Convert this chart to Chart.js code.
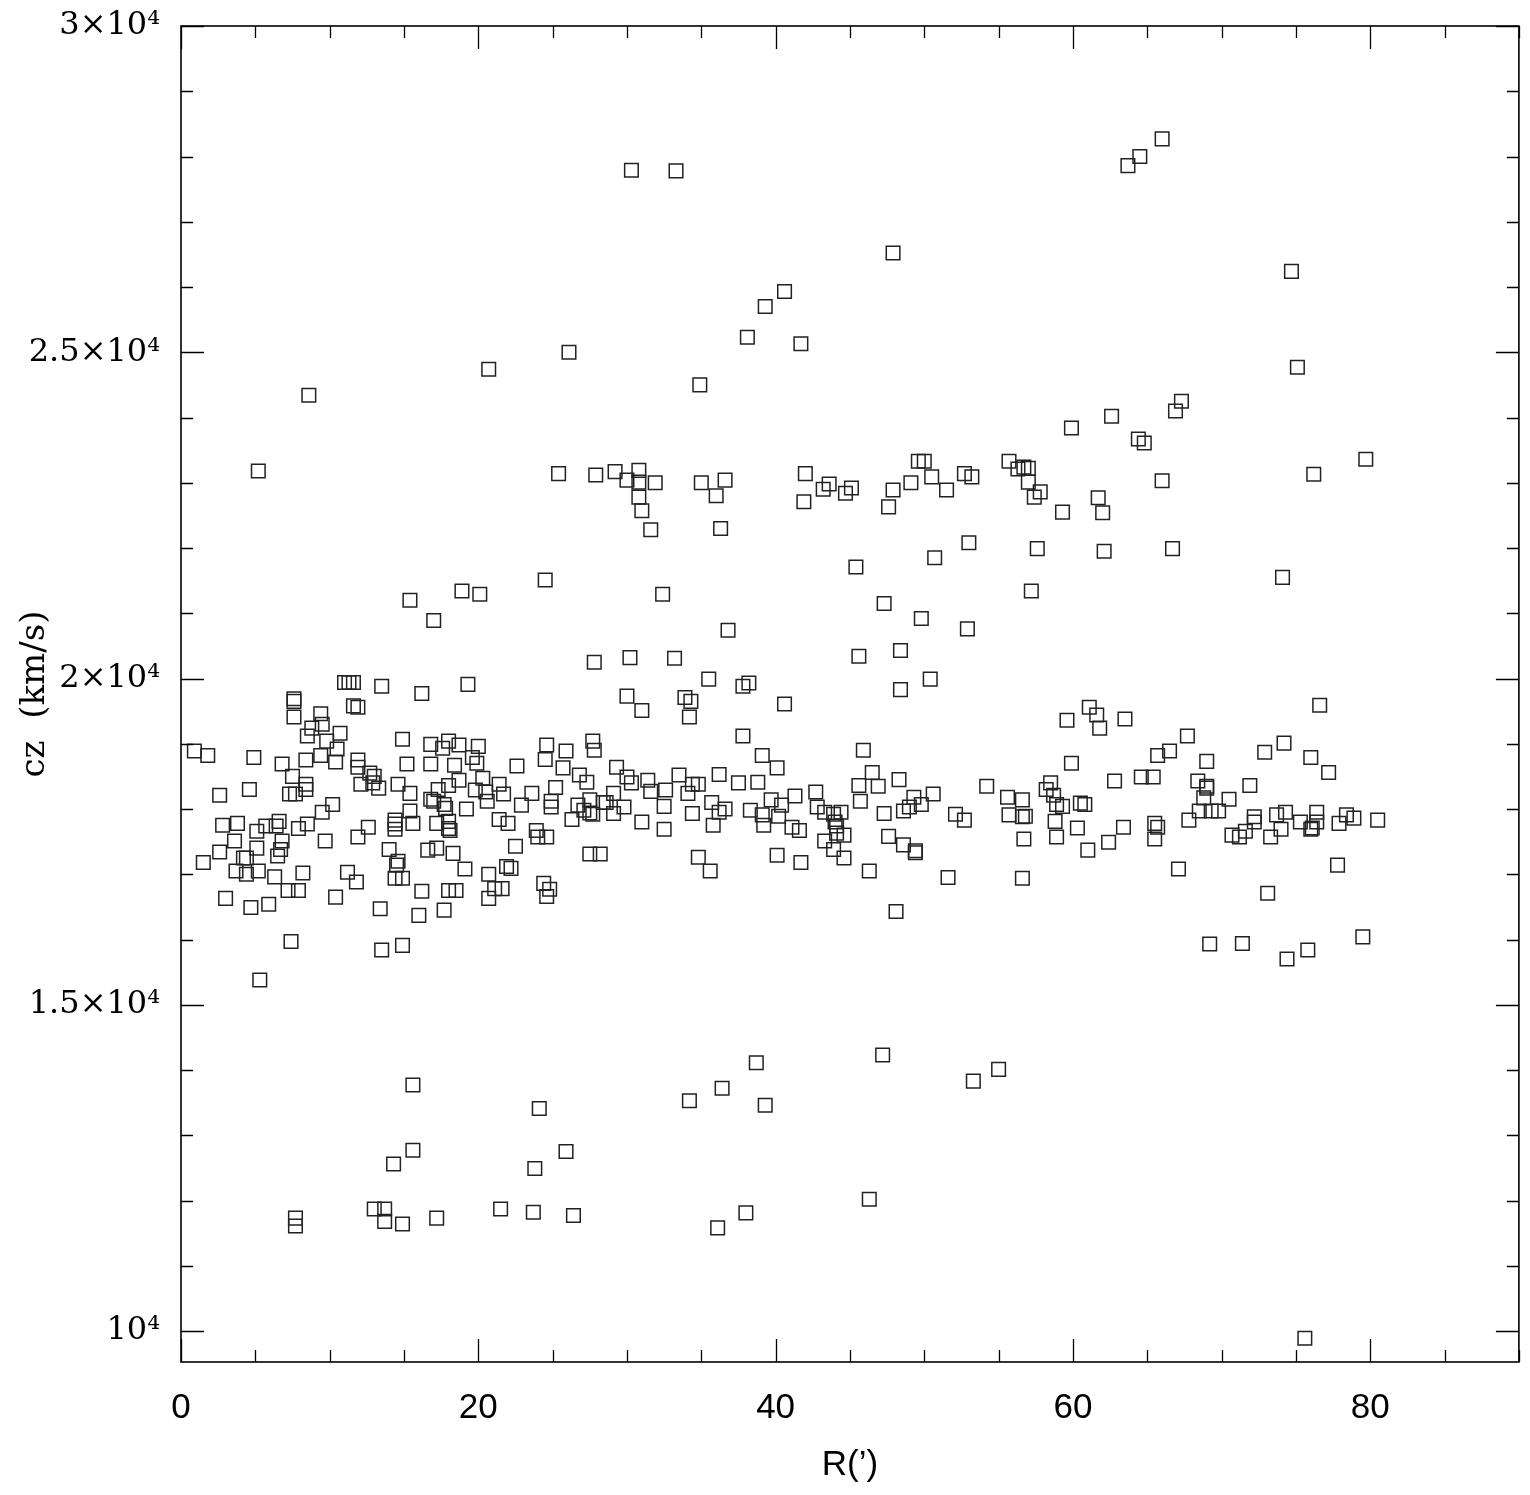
<!DOCTYPE html>
<html>
<head>
<meta charset="utf-8">
<title>cz vs R</title>
<script src="https://cdn.jsdelivr.net/npm/chart.js@4.4.1/dist/chart.umd.min.js"></script>
<style>
  html, body { margin: 0; padding: 0; background: #fff; }
  canvas { display: block; }
</style>
</head>
<body>
<canvas id="chart" width="1530" height="1495"></canvas>
<script>
// projected radius R (arcmin)
const radiusArcmin = [
  // high cz
  30.3, 33.3, 66.0, 64.5, 63.7, 47.9, 74.7, 40.6, 39.3, 38.1,
  41.7, 26.1, 20.7, 75.1, 34.9, 8.6, 67.3, 66.9, 62.6, 59.9,
  64.4, 64.8, 5.2, 79.7, 76.2, 25.4, 27.9, 29.2, 30.0, 30.8,
  30.8, 31.9, 35.0, 36.6, 30.8, 31.0, 31.6, 36.0, 36.3, 42.0,
  41.9, 43.2, 43.6, 44.7, 45.1, 47.6, 47.9, 49.1, 49.6, 50.0,
  50.5, 51.5, 52.7, 53.2, 55.7, 56.3, 56.7, 57.0, 57.0, 57.4,
  57.8, 59.3, 61.7, 62.0, 66.0, 50.7, 53.0, 57.6, 62.1, 66.7,
  45.4, 24.5, 18.9, 20.1, 15.4, 32.4, 47.3, 57.2, 74.1, 17.0,
  49.8, 36.8, 52.9, 30.2, 27.8, 33.2, 45.6, 48.4, 50.4, 35.5,
  // low cz
  15.6, 15.6, 14.3, 13.0, 13.7, 13.7, 14.9, 17.2, 7.7, 7.7,
  21.5, 23.7, 26.4, 24.1, 23.8, 25.9, 34.2, 36.4, 36.1, 38.7,
  39.3, 38.0, 46.3, 47.2, 53.3, 55.0, 75.6,
  // main band, R < 23
  11.0, 11.3, 11.6, 13.5, 16.2, 19.3, 7.6, 7.6, 11.6, 11.9,
  7.6, 9.4, 9.5, 8.8, 10.7, 8.5, 9.8, 10.5, 9.4, 10.4,
  0.9, 1.8, 4.9, 6.8, 8.4, 7.5, 8.4, 8.4, 7.7, 7.3,
  2.6, 4.6, 14.9, 16.8, 18.0, 18.7, 20.0, 17.6, 19.6, 19.9,
  11.9, 11.9, 12.7, 13.0, 12.1, 12.9, 13.3, 15.2, 16.8, 18.4,
  14.6, 15.4, 17.3, 18.0, 18.7, 19.8, 20.3, 20.5, 21.4, 21.7,
  22.6, 22.9, 16.8, 17.0, 17.7, 17.8, 19.2, 20.6, 15.4, 10.2,
  9.5, 2.8, 3.8, 5.1, 5.7, 6.4, 6.6, 7.9, 8.5, 14.4,
  14.4, 14.4, 15.6, 12.6, 11.9, 9.7, 17.2, 18.0, 18.0, 18.1,
  21.4, 22.0, 22.5, 21.9, 22.2, 3.6, 2.6, 5.1, 6.8, 6.7,
  6.5, 4.2, 4.4, 1.5, 3.7, 4.4, 5.2, 6.3, 7.2, 7.9,
  8.2, 3.0, 4.7, 5.9, 10.4, 11.2, 11.8, 14.0, 14.6, 14.5,
  14.4, 14.9, 16.6, 17.2, 18.3, 19.1, 20.7, 21.1, 21.6, 20.7,
  16.2, 18.0, 18.5, 13.4, 16.0, 17.7, 7.4, 13.5, 14.9, 5.3,
  // main band, 23 < R < 45
  37.8, 38.2, 30.0, 31.0, 33.9, 34.3, 34.2, 40.6, 37.8, 39.1,
  40.1, 24.6, 27.7, 27.8, 25.9, 24.5, 25.7, 26.8, 27.3, 29.3,
  30.0, 30.3, 31.4, 31.6, 32.6, 33.5, 34.4, 34.8, 34.1, 36.2,
  37.5, 38.8, 23.6, 25.2, 24.9, 24.9, 26.7, 27.1, 27.5, 27.5,
  27.7, 28.4, 28.6, 29.1, 29.1, 29.8, 26.3, 31.0, 32.5, 32.5,
  34.4, 35.7, 36.6, 36.2, 35.8, 38.3, 39.1, 39.2, 39.7, 40.4,
  40.2, 41.3, 41.1, 41.6, 42.7, 42.8, 43.3, 43.9, 44.0, 44.1,
  44.1, 44.4, 43.3, 43.9, 44.6, 44.6, 23.9, 24.0, 24.6, 27.5,
  28.2, 24.4, 24.8, 24.6, 34.8, 35.6, 40.1, 41.7,
  // main band, 45 < R < 68
  48.4, 45.9, 46.5, 45.6, 46.9, 48.3, 45.7, 47.3, 48.6, 49.0,
  49.3, 49.8, 50.6, 47.6, 48.6, 49.4, 49.4, 46.3, 48.1, 51.6,
  52.1, 52.7, 54.2, 55.6, 56.6, 55.7, 56.6, 56.8, 56.7, 56.6,
  58.5, 58.2, 58.7, 58.9, 59.3, 58.8, 58.9, 59.9, 59.6, 61.1,
  61.6, 61.8, 63.5, 60.5, 60.8, 60.3, 61.0, 62.4, 63.4, 62.8,
  64.6, 65.4, 65.7, 66.5, 65.5, 65.7, 65.5, 67.1,
  // main band, R > 67
  76.6, 67.7, 72.9, 74.2, 76.0, 77.2, 69.0, 68.4, 69.0, 69.0,
  71.9, 68.8, 70.5, 68.5, 69.3, 69.8, 67.8, 72.2, 72.2, 73.7,
  74.3, 75.3, 76.4, 76.4, 76.1, 76.0, 77.9, 78.4, 78.9, 80.5,
  70.7, 71.2, 71.6, 73.3, 74.0, 77.8, 73.1, 69.2, 71.4, 74.4,
  75.8, 79.5
];

// line-of-sight velocity cz (km/s), same order
const czKms = [
  27790, 27780, 28270, 28000, 27860, 26520, 26240, 25930, 25700, 25230,
  25130, 25000, 24740, 24770, 24500, 24340, 24250, 24100, 24020, 23840,
  23670, 23610, 23180, 23360, 23130, 23140, 23120, 23170, 23040, 23190,
  23010, 23000, 23000, 23040, 22780, 22570, 22280, 22800, 22300, 23140,
  22710, 22900, 22980, 22840, 22920, 22630, 22890, 23000, 23330, 23330,
  23090, 22890, 23140, 23090, 23330, 23210, 23240, 23220, 23010, 22780,
  22860, 22550, 22770, 22540, 23030, 21850, 22080, 21990, 21950, 21990,
  21710, 21510, 21340, 21290, 21200, 21290, 21150, 21340, 21550, 20890,
  20920, 20740, 20760, 20320, 20250, 20310, 20340, 20430, 19990, 19990,

  13770, 12770, 12560, 11870, 11870, 11680, 11640, 11730, 11730, 11610,
  11870, 11820, 11770, 13410, 12490, 12750, 13530, 13720, 11580, 14110,
  13460, 11810, 12020, 14230, 13830, 14010, 9890,

  19940, 19940, 19940, 19880, 19770, 19910, 19690, 19650, 19580, 19560,
  19410, 19460, 19300, 19240, 19160, 19120, 19040, 18920, 18820, 18720,
  18890, 18820, 18790, 18690, 18750, 18500, 18380, 18300, 18230, 18230,
  18210, 18300, 19070, 18990, 19040, 18980, 18960, 18930, 18790, 18700,
  18750, 18640, 18550, 18500, 18380, 18400, 18320, 18690, 18690, 18670,
  18380, 18240, 18300, 18360, 18440, 18290, 18470, 18260, 18380, 18230,
  18660, 18060, 18150, 18120, 18070, 18010, 18000, 18120, 17970, 18070,
  17950, 17750, 17780, 17660, 17740, 17740, 17810, 17700, 17770, 17830,
  17770, 17690, 17780, 17720, 17570, 17510, 17780, 17810, 17700, 17670,
  17840, 17780, 17430, 17120, 17090, 17510, 17340, 17400, 17510, 17380,
  17280, 17250, 17250, 17180, 17050, 17000, 17050, 16960, 16750, 16750,
  17020, 16630, 16490, 16540, 16650, 17030, 16880, 17380, 17200, 17140,
  16940, 16940, 17370, 17400, 17320, 17080, 17000, 16780, 16780, 16630,
  16740, 16750, 16750, 16470, 16370, 16450, 15970, 15840, 15910, 15380,

  19880, 19930, 19730, 19510, 19710, 19650, 19410, 19610, 19120, 18820,
  18630, 18980, 19040, 18900, 18890, 18760, 18630, 18520, 18410, 18640,
  18490, 18400, 18440, 18270, 18290, 18520, 18380, 18380, 18240, 18530,
  18400, 18410, 18240, 18330, 18120, 18030, 18060, 17980, 18140, 17940,
  17920, 18100, 18100, 18240, 17930, 18030, 17840, 17800, 18040, 17690,
  17930, 18100, 18000, 17950, 17750, 17980, 17910, 17750, 18140, 18060,
  17890, 18200, 17720, 17670, 18260, 18030, 17950, 17920, 17800, 17740,
  17630, 17950, 17510, 17380, 17600, 17250, 17670, 17570, 17570, 17310,
  17310, 16860, 16770, 16660, 17260, 17050, 17290, 17180,

  19830, 18900, 18560, 18360, 18350, 18450, 18120, 17930, 17970, 18030,
  18180, 18070, 18230, 17580, 17450, 17360, 17330, 17050, 16430, 16950,
  17920, 17830, 18350, 18180, 18140, 17910, 17880, 17890, 17540, 16940,
  18400, 18300, 18210, 18070, 18040, 17810, 17570, 18700, 19360, 19560,
  19440, 19240, 19380, 18090, 18070, 17710, 17370, 17490, 17720, 18430,
  18490, 18490, 18820, 18890, 17780, 17720, 17540, 17080,

  19590, 19120, 18870, 19010, 18790, 18560, 18730, 18430, 18350, 18320,
  18360, 18170, 18150, 17970, 17970, 17970, 17830, 17880, 17800, 17910,
  17950, 17800, 17950, 17800, 17710, 17690, 17780, 17910, 17860, 17830,
  17600, 17570, 17660, 17570, 17690, 17140, 16710, 15930, 15940, 15700,
  15840, 16040
];

// axis ticks and labels
const xMajorTicks = [0, 20, 40, 60, 80];
const xMinorStep = 5;
const yMajorTicks = [10000, 15000, 20000, 25000, 30000];
const yMajorLabels = ['10\u2074', '1.5\u00d710\u2074', '2\u00d710\u2074', '2.5\u00d710\u2074', '3\u00d710\u2074'];
const yMinorStep = 1000;

const X_MIN = 0, X_MAX = 90;
const Y_MIN = 9525, Y_MAX = 30000;

const points = radiusArcmin.map((r, i) => ({ x: r, y: czKms[i] }));

// inward ticks on all four sides plus the box
const frameTicks = {
  id: 'frameTicks',
  afterDatasetsDraw(chart) {
    const { ctx, chartArea: a, scales: { x, y } } = chart;
    ctx.save();
    ctx.strokeStyle = '#000';
    ctx.lineWidth = 1.3;
    ctx.beginPath();
    for (let v = X_MIN; v <= X_MAX; v += xMinorStep) {
      const len = xMajorTicks.includes(v) ? 23 : 12;
      const px = Math.round(x.getPixelForValue(v)) + 0.5;
      ctx.moveTo(px, a.bottom); ctx.lineTo(px, a.bottom - len);
      ctx.moveTo(px, a.top); ctx.lineTo(px, a.top + len);
    }
    for (let v = 10000; v <= Y_MAX; v += yMinorStep) {
      const len = yMajorTicks.includes(v) ? 23 : 12;
      const py = Math.round(y.getPixelForValue(v)) + 0.5;
      ctx.moveTo(a.left, py); ctx.lineTo(a.left + len, py);
      ctx.moveTo(a.right, py); ctx.lineTo(a.right - len, py);
    }
    ctx.stroke();
    ctx.lineWidth = 1.6;
    ctx.strokeRect(a.left, a.top, a.right - a.left, a.bottom - a.top);
    ctx.restore();
  }
};

const sansFont = '"Liberation Sans", Arial, Helvetica, sans-serif';
const serifFont = '"DejaVu Serif", "Liberation Serif", serif';

new Chart(document.getElementById('chart'), {
  type: 'scatter',
  data: {
    datasets: [{
      data: points,
      pointStyle: 'rect',
      pointRadius: 9.6,
      pointBorderWidth: 1.5,
      borderColor: '#222',
      backgroundColor: 'rgba(0,0,0,0)'
    }]
  },
  options: {
    responsive: false,
    animation: false,
    events: [],
    layout: { padding: { top: 26, right: 11, left: 0, bottom: 0 } },
    plugins: {
      legend: { display: false },
      tooltip: { enabled: false }
    },
    scales: {
      x: {
        type: 'linear',
        position: 'bottom',
        min: X_MIN,
        max: X_MAX,
        grid: { display: false, drawTicks: false },
        border: { display: false },
        afterBuildTicks: (s) => { s.ticks = xMajorTicks.map(v => ({ value: v })); },
        afterFit: (s) => { s.height = 133; },
        ticks: {
          autoSkip: false,
          maxRotation: 0,
          padding: 25,
          color: '#000',
          font: { family: sansFont, size: 35 },
          callback: (v) => String(v)
        },
        title: {
          display: true,
          text: 'R(\u2019)',
          color: '#000',
          font: { family: sansFont, size: 35 },
          padding: { top: 0, bottom: 9 }
        }
      },
      y: {
        type: 'linear',
        position: 'left',
        min: Y_MIN,
        max: Y_MAX,
        grid: { display: false, drawTicks: false },
        border: { display: false },
        afterBuildTicks: (s) => { s.ticks = yMajorTicks.map(v => ({ value: v })); },
        afterFit: (s) => {
          s.width = 181;
          // label overflow fits inside the layout padding already
          s.paddingTop = 0;
          s.paddingBottom = 0;
        },
        ticks: {
          autoSkip: false,
          padding: 21,
          color: '#000',
          font: { family: serifFont, size: 32 },
          callback: (v) => yMajorLabels[yMajorTicks.indexOf(v)]
        },
        title: {
          display: true,
          text: 'cz  (km/s)',
          color: '#000',
          font: { family: serifFont, size: 34 },
          padding: { top: 15, bottom: 0 }
        }
      }
    }
  },
  plugins: [frameTicks]
});
</script>
</body>
</html>
